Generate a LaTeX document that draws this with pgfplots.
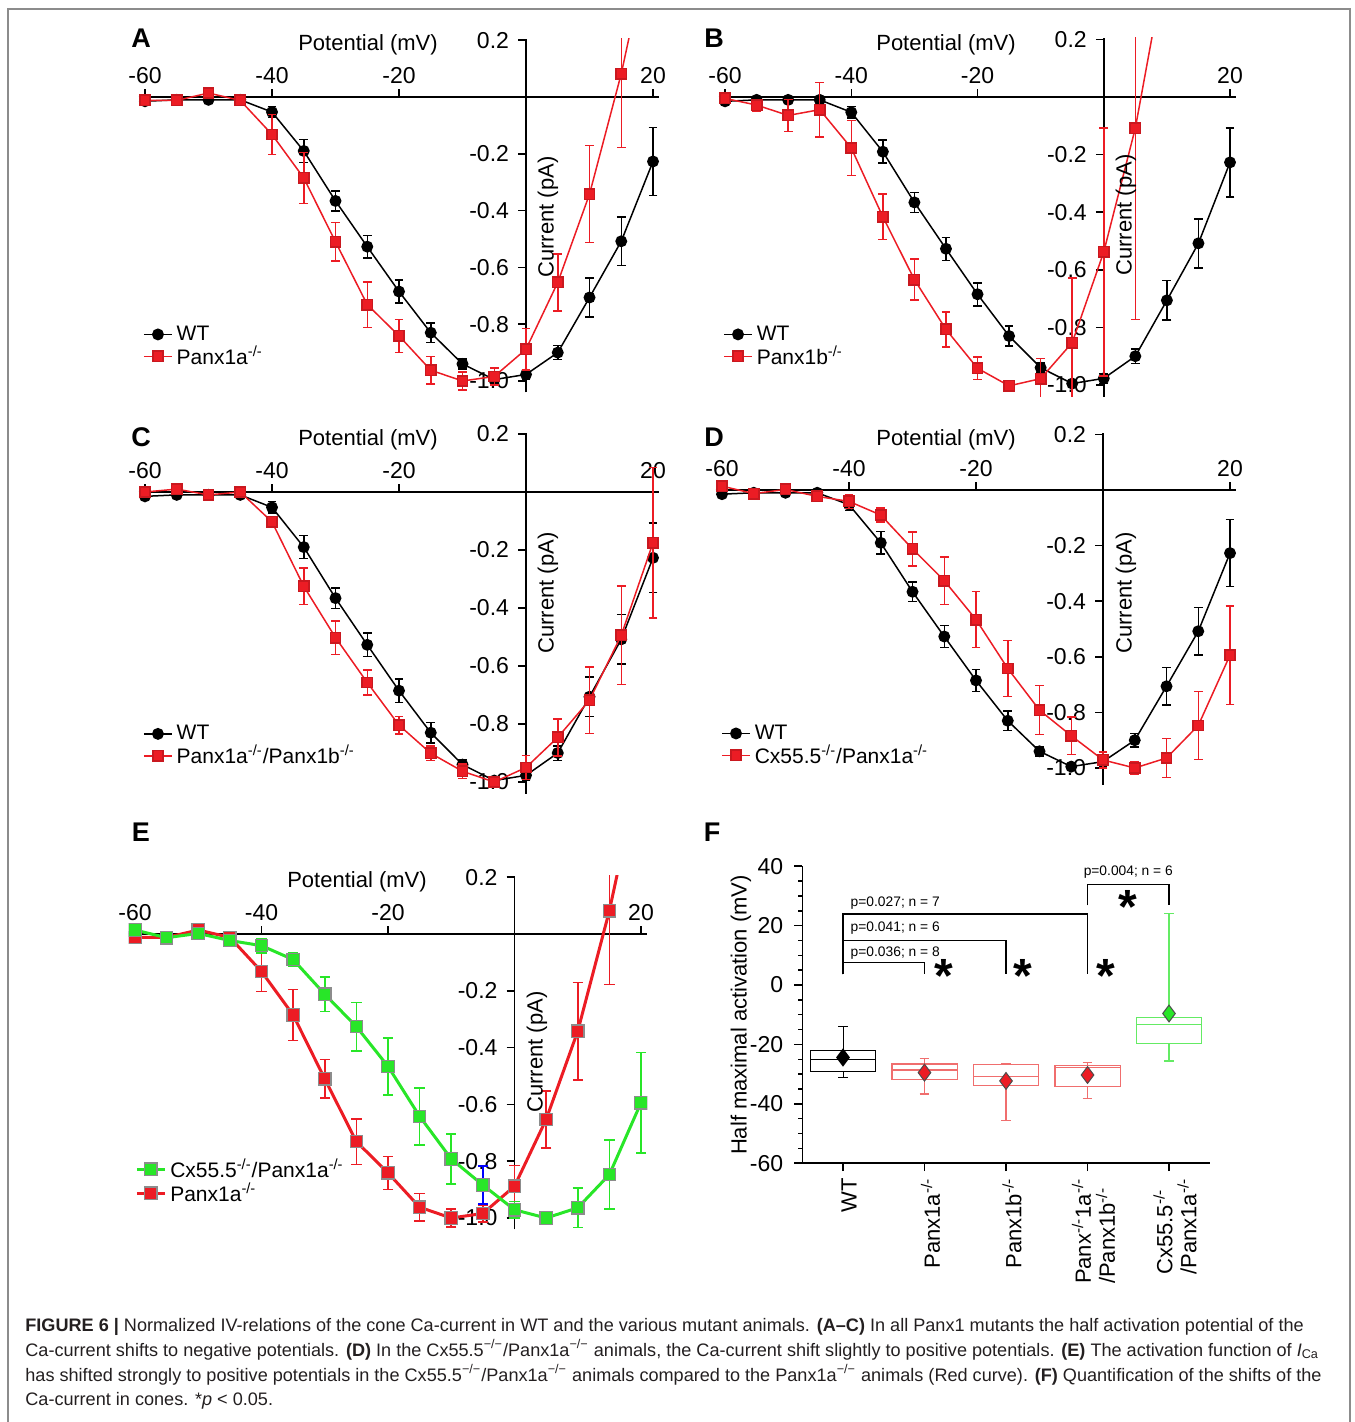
\documentclass[border=0pt]{standalone}
\usepackage{fontspec}
\setmainfont{Liberation Sans}
\usepackage{pgfplots}
\pgfplotsset{compat=1.18}
\usepackage{pgfplotstable}
\usepgfplotslibrary{statistics}

\definecolor{myred}{RGB}{236,28,36}
\definecolor{mygreen}{RGB}{40,230,40}
\definecolor{boxred}{RGB}{240,110,110}
\definecolor{boxgreen}{RGB}{100,235,100}
\definecolor{captxt}{RGB}{35,31,32}

\pgfplotstableread{
x y e
-60 -0.015 0
-55 -0.010 0
-50 -0.010 0
-45 -0.010 0.008
-40 -0.053 0.020
-35 -0.190 0.040
-30 -0.366 0.035
-25 -0.527 0.040
-20 -0.685 0.040
-15 -0.830 0.035
-10 -0.940 0.017
-5 -0.995 0.010
0 -0.977 0.017
5 -0.900 0.025
10 -0.706 0.068
15 -0.508 0.085
20 -0.227 0.120
}\wt

\pgfplotstableread{
x y e
-60 -0.012 0
-55 -0.012 0
-50 0.014 0
-45 -0.012 0.010
-40 -0.132 0.071
-35 -0.285 0.090
-30 -0.510 0.068
-25 -0.731 0.080
-20 -0.841 0.058
-15 -0.962 0.048
-10 -1.000 0.032
-5 -0.984 0.030
0 -0.888 0.073
5 -0.653 0.100
10 -0.342 0.171
15 0.082 0.260
20 0.600 0.300
}\pa

\pgfplotstableread{
x y e
-60 -0.005 0.010
-55 -0.028 0.020
-50 -0.064 0.055
-45 -0.044 0.095
-40 -0.177 0.095
-35 -0.416 0.079
-30 -0.634 0.071
-25 -0.807 0.061
-20 -0.942 0.039
-15 -1.003 0.010
-10 -0.978 0.070
-5 -0.853 0.225
0 -0.538 0.430
5 -0.108 0.665
10 0.490 0
}\pb

\pgfplotstableread{
x y e
-60 0.000 0.010
-55 0.010 0.010
-50 -0.010 0.010
-45 0.000 0.012
-40 -0.103 0.018
-35 -0.325 0.063
-30 -0.502 0.058
-25 -0.657 0.043
-20 -0.804 0.030
-15 -0.901 0.025
-10 -0.963 0.025
-5 -1.000 0.010
0 -0.950 0.042
5 -0.846 0.064
10 -0.718 0.115
15 -0.494 0.170
20 -0.175 0.260
}\pab

\pgfplotstableread{
x y e
-60 0.014 0.010
-55 -0.013 0.008
-50 0.002 0.008
-45 -0.023 0.010
-40 -0.041 0.025
-35 -0.090 0.025
-30 -0.212 0.061
-25 -0.326 0.085
-20 -0.466 0.100
-15 -0.642 0.100
-10 -0.792 0.088
-5 -0.884 0.067
0 -0.971 0.029
5 -1.000 0.023
10 -0.964 0.070
15 -0.847 0.122
20 -0.594 0.177
}\cx

\pgfplotstableread{
x y e
-60 0.014 0.010
-55 -0.013 0.008
-50 0.002 0.008
-45 -0.023 0.010
-40 -0.041 0.025
-35 -0.090 0.025
-30 -0.212 0.061
-25 -0.326 0.085
-20 -0.466 0.100
-15 -0.642 0.100
-10 -0.792 0.088
-5 -0.884 0
0 -0.971 0.029
5 -1.000 0.023
10 -0.964 0.070
15 -0.847 0.122
20 -0.594 0.177
}\cxe

\newcommand\tickfont{\fontsize{11.5}{12}\selectfont}
\newcommand\labfont{\fontsize{11}{12}\selectfont}
\newcommand\legfont{\fontsize{10.5}{11}\selectfont}
\newcommand\capfont{\fontsize{9.05}{10}\selectfont}
\newcommand\letfont{\fontsize{13.5}{14}\selectfont\bfseries}

\pgfplotsset{
  /pgf/number format/assume math mode=true,
  legend image code/.code={\draw[mark repeat=2,mark phase=2,#1] plot coordinates {(0pt,0pt) (7pt,0pt) (14pt,0pt)};},
  ivax/.style={
    anchor=origin,
    axis lines=middle,
    axis line style={-, line width=0.75pt},
    xmin=-61, xmax=21, ymin=-1.04, ymax=0.205,
    xtick={-60,-40,-20,20},
    ytick={-1,-0.8,-0.6,-0.4,-0.2,0.2},
    tick style={black, line width=0.75pt},
    major tick length=4pt,
    xtick style={yshift=2pt},
    ytick style={xshift=-2pt},
    xticklabel style={anchor=south, yshift=5pt, font=\tickfont},
    yticklabel style={anchor=east, xshift=-3pt, font=\tickfont,
      /pgf/number format/fixed, /pgf/number format/fixed zerofill, /pgf/number format/precision=1},
    clip=true, clip marker paths=true,
    legend cell align=left,
    legend style={draw=none, fill=none, inner sep=0pt, font=\legfont,
      nodes={inner ysep=0.6pt, inner xsep=2pt}, anchor=north west},
  },
  wtp/.style={black, line width=0.75pt, mark=*, mark size=2.6pt, mark options={solid, fill=black},
    error bars/.cd, y dir=both, y explicit, error bar style={line width=0.75pt, solid},
    error mark options={rotate=90, mark size=2.2pt, line width=0.75pt}},
  rdp/.style={myred, line width=0.75pt, mark=square*, mark size=2.6pt,
    mark options={solid, fill=myred, draw=myred!85!black},
    error bars/.cd, y dir=both, y explicit, error bar style={line width=0.75pt, solid},
    error mark options={rotate=90, mark size=2.2pt, line width=0.75pt}},
  rde/.style={myred, line width=1.5pt, mark=square*, mark size=3.1pt,
    mark options={solid, fill=myred, draw=black!45, line width=0.6pt},
    error bars/.cd, y dir=both, y explicit, error bar style={line width=0.8pt, solid, myred},
    error mark options={rotate=90, mark size=2.6pt, line width=0.8pt, myred}},
  gre/.style={mygreen, line width=1.5pt, mark=square*, mark size=3.1pt,
    mark options={solid, fill=mygreen, draw=black!45, line width=0.6pt},
    error bars/.cd, y dir=both, y explicit, error bar style={line width=0.8pt, solid, mygreen},
    error mark options={rotate=90, mark size=2.6pt, line width=0.8pt, mygreen}},
  bxp/.style={line width=0.6pt, solid},
}

\begin{document}
\begin{tikzpicture}
\useasboundingbox (0pt,0pt) rectangle (677pt,-711pt);

% ---------- A ----------
\begin{axis}[ivax, at={(263pt,-48.5pt)}, x=3.175pt, y=142pt,
  legend style={at={(0.008,0.193)}}]
\addplot[wtp] table[x=x,y=y,y error=e] {\wt};
\addplot[rdp] table[x=x,y=y,y error=e] {\pa};
\legend{WT, Panx1a\textsuperscript{-/-}}
\end{axis}

% ---------- B ----------
\begin{axis}[ivax, at={(551.875pt,-48.5pt)}, x=3.156pt, y=144pt,
  legend style={at={(0.008,0.202)}}]
\addplot[wtp] table[x=x,y=y,y error=e] {\wt};
\addplot[rdp] table[x=x,y=y,y error=e] {\pb};
\legend{WT, Panx1b\textsuperscript{-/-}}
\end{axis}

% ---------- C ----------
\begin{axis}[ivax, at={(263pt,-246pt)}, x=3.175pt, y=145pt,
  legend style={at={(0.008,0.194)}}]
\addplot[wtp] table[x=x,y=y,y error=e] {\wt};
\addplot[rdp] table[x=x,y=y,y error=e] {\pab};
\legend{WT, Panx1a\textsuperscript{-/-}/Panx1b\textsuperscript{-/-}}
\end{axis}

% ---------- D ----------
\begin{axis}[ivax, at={(551.5pt,-245pt)}, x=3.175pt, y=139pt, ymin=-1.06,
  legend style={at={(0.010,0.175)}}]
\addplot[wtp] table[x=x,y=y,y error=e] {\wt};
\addplot[rdp] table[x=x,y=y,y error=e] {\cx};
\legend{WT, Cx55.5\textsuperscript{-/-}/Panx1a\textsuperscript{-/-}}
\end{axis}

% ---------- E ----------
\begin{axis}[ivax, at={(257.25pt,-467pt)}, x=3.1625pt, y=142pt,
  legend style={at={(0.012,0.205)}}, reverse legend]
\addplot[rde] table[x=x,y=y,y error=e] {\pa};
\addlegendentry{Panx1a\textsuperscript{-/-}}
\addplot[blue, draw=none, mark=none, forget plot,
  error bars/.cd, y dir=both, y explicit,
  error bar style={draw=blue, line width=0.8pt, solid},
  error mark options={draw=blue, rotate=90, mark size=2.6pt, line width=0.8pt}]
  coordinates {(-5,-0.884) +- (0,0.067)};
\addplot[gre] table[x=x,y=y,y error=e] {\cxe};
\addlegendentry{Cx55.5\textsuperscript{-/-}/Panx1a\textsuperscript{-/-}}
\end{axis}

% ---------- F ----------
\begin{axis}[anchor=origin, at={(421.5pt,-492.5pt)}, x=40.75pt, y=1.485pt,
  xmin=-0.5, xmax=4.5, ymin=-60, ymax=40,
  axis x line*=bottom, axis y line*=left,
  axis line style={-, line width=0.75pt},
  xtick={0,1,2,3,4},
  xticklabels={WT, Panx1a\textsuperscript{-/-}, Panx1b\textsuperscript{-/-},
    {Panx\textsuperscript{-/-}1a\textsuperscript{-/-}\\/Panx1b\textsuperscript{-/-}},
    {Cx55.5\textsuperscript{-/-}\\/Panx1a\textsuperscript{-/-}}},
  xticklabel style={rotate=90, anchor=east, align=left, yshift=-3pt,
    font=\fontsize{11}{12}\selectfont},
  ytick={-60,-40,-20,0,20,40}, minor y tick num=3,
  yticklabel style={font=\fontsize{11.5}{12}\selectfont, xshift=-2pt},
  tick align=outside, major tick length=4pt, minor tick length=2pt,
  tick style={black, line width=0.75pt},
  boxplot/draw direction=y,
  clip=false]
\addplot[black, bxp, line width=0.5pt, boxplot prepared={draw position=0,
  lower whisker=-31.2, lower quartile=-29.0, median=-25.1, upper quartile=-22.0,
  upper whisker=-14.0, box extend=0.8, whisker extend=0.12}] coordinates {};
\addplot[boxred, bxp, boxplot prepared={draw position=1,
  lower whisker=-36.7, lower quartile=-31.8, median=-28.6, upper quartile=-26.6,
  upper whisker=-24.8, box extend=0.8, whisker extend=0.12}] coordinates {};
\addplot[boxred, bxp, boxplot prepared={draw position=2,
  lower whisker=-45.7, lower quartile=-33.7, median=-30.8, upper quartile=-26.8,
  upper whisker=-26.6, box extend=0.8, whisker extend=0.12}] coordinates {};
\addplot[boxred, bxp, boxplot prepared={draw position=3,
  lower whisker=-38.2, lower quartile=-34.1, median=-27.9, upper quartile=-27.2,
  upper whisker=-26.0, box extend=0.8, whisker extend=0.12}] coordinates {};
\addplot[boxgreen, bxp, boxplot prepared={draw position=4,
  lower whisker=-25.6, lower quartile=-19.6, median=-13.2, upper quartile=-11.0,
  upper whisker=24.0, box extend=0.8, whisker extend=0.12}] coordinates {};
\addplot[only marks, mark=diamond*, mark size=4.2pt, mark options={draw=black, fill=black, line width=0.5pt}]
  coordinates {(0,-24.4)};
\addplot[only marks, mark=diamond*, mark size=4.2pt, mark options={draw=black!70, fill=myred, line width=0.5pt}]
  coordinates {(1,-29.5) (2,-32.3) (3,-30.3)};
\addplot[only marks, mark=diamond*, mark size=4.2pt, mark options={draw=black!70, fill=mygreen, line width=0.5pt}]
  coordinates {(4,-9.6)};
% significance brackets
\addplot[black, line width=0.6pt, mark=none] coordinates {(0,3.6) (0,7.7) (1,7.7) (1,3.6)};
\addplot[black, line width=0.6pt, mark=none] coordinates {(0,3.6) (0,15.0) (2,15.0) (2,3.6)};
\addplot[black, line width=0.6pt, mark=none] coordinates {(0,3.6) (0,23.9) (3,23.9) (3,3.6)};
\addplot[black, line width=0.6pt, mark=none] coordinates {(3,26.8) (3,33.9) (4,33.9) (4,26.8)};
\node[anchor=west, inner sep=0pt, font=\fontsize{6.9}{7}\selectfont] at (axis cs:0.09,10.9) {p=0.036; n = 8};
\node[anchor=west, inner sep=0pt, font=\fontsize{6.9}{7}\selectfont] at (axis cs:0.09,19.1) {p=0.041; n = 6};
\node[anchor=west, inner sep=0pt, font=\fontsize{6.9}{7}\selectfont] at (axis cs:0.09,27.5) {p=0.027; n = 7};
\node[inner sep=0pt, font=\fontsize{6.9}{7}\selectfont] at (axis cs:3.5,38.1) {p=0.004; n = 6};
\node[font=\fontsize{24}{24}\selectfont\bfseries, yshift=-4pt] at (axis cs:1.24,5.8) {*};
\node[font=\fontsize{24}{24}\selectfont\bfseries, yshift=-4pt] at (axis cs:2.21,5.8) {*};
\node[font=\fontsize{24}{24}\selectfont\bfseries, yshift=-4pt] at (axis cs:3.22,5.8) {*};
\node[font=\fontsize{24}{24}\selectfont\bfseries, yshift=-4pt] at (axis cs:3.50,28.8) {*};
\end{axis}

% ---------- text in pixel units ----------
\begin{scope}[x=0.5pt,y=-0.5pt]
\draw[black!45, line width=0.6pt] (8,1422) -- (8,9) -- (1350,9) -- (1350,1422);
\node[font=\letfont] at (141,38) {A};
\node[font=\labfont] at (368,45) {Potential (mV)};
\node[font=\labfont, rotate=90] at (548,217) {Current (pA)};
\node[font=\letfont] at (714,38) {B};
\node[font=\labfont] at (946,45) {Potential (mV)};
\node[font=\labfont, rotate=90] at (1126,215) {Current (pA)};
\node[font=\letfont] at (141,437) {C};
\node[font=\labfont] at (368,440) {Potential (mV)};
\node[font=\labfont, rotate=90] at (548,593) {Current (pA)};
\node[font=\letfont] at (714,437) {D};
\node[font=\labfont] at (946,440) {Potential (mV)};
\node[font=\labfont, rotate=90] at (1126,593) {Current (pA)};
\node[font=\letfont] at (141,832) {E};
\node[font=\labfont] at (357,882) {Potential (mV)};
\node[font=\labfont, rotate=90] at (537,1052) {Current (pA)};
\node[font=\letfont] at (712,832) {F};
\node[font=\labfont, rotate=90] at (741,1015) {Half maximal activation (mV)};
\begin{scope}[every node/.style={anchor=base west, inner sep=0pt, font=\capfont, text=captxt}]
\node at (25,1331) {\textbf{FIGURE 6 |} Normalized IV-relations of the cone Ca-current in WT and the various mutant animals. \textbf{(A–C)} In all Panx1 mutants the half activation potential of the};
\node at (25,1356) {Ca-current shifts to negative potentials. \textbf{(D)} In the Cx55.5\textsuperscript{−/−}/Panx1a\textsuperscript{−/−} animals, the Ca-current shift slightly to positive potentials. \textbf{(E)} The activation function of \textit{I}\textsubscript{Ca}};
\node at (25,1381) {has shifted strongly to positive potentials in the Cx55.5\textsuperscript{−/−}/Panx1a\textsuperscript{−/−} animals compared to the Panx1a\textsuperscript{−/−} animals (Red curve). \textbf{(F)} Quantification of the shifts of the};
\node at (25,1405) {Ca-current in cones. *\textit{p} < 0.05.};
\end{scope}
\end{scope}
\end{tikzpicture}
\end{document}
